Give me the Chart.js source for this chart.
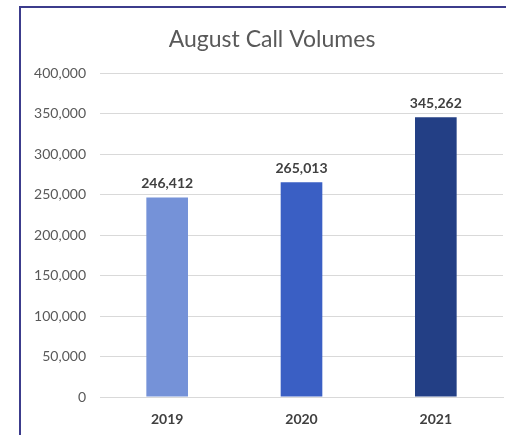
<!DOCTYPE html>
<html>
<head>
<meta charset="utf-8">
<script src="https://cdn.jsdelivr.net/npm/chart.js@4/dist/chart.umd.min.js"></script>
<style>
  html, body { margin: 0; padding: 0; background: #fff; }
  #wrap { position: relative; width: 506px; height: 435px; overflow: hidden; }
  #frame { position: absolute; left: 19px; top: 6px; width: 600px; height: 600px; border: 2px solid #3c3c8c; box-sizing: border-box; pointer-events: none; }
  canvas { position: absolute; left: 0; top: 0; }
</style>
</head>
<body>
<div id="wrap">
  <canvas id="callChart" width="506" height="435"></canvas>
  <div id="frame"></div>
</div>
<script>
// August call volumes
const years = ['2019', '2020', '2021'];
const calls = [246412, 265013, 345262];
const barColors = ['#7592d8', '#3a5fc4', '#233f85'];
const chartTitle = 'August Call Volumes';

const fontFamily = 'Lato, "Open Sans", sans-serif';

// title and value labels, drawn by hand so they sit where Excel put them
const barLabels = {
  id: 'barLabels',
  afterDatasetsDraw(chart) {
    const ctx = chart.ctx;
    const meta = chart.getDatasetMeta(0);
    ctx.save();
    ctx.font = '23px ' + fontFamily;
    ctx.fillStyle = '#595959';
    ctx.textAlign = 'center';
    ctx.textBaseline = 'middle';
    ctx.fillText(chartTitle, 272, 40);

    ctx.font = 'bold 14px ' + fontFamily;
    ctx.fillStyle = '#404040';
    ctx.textBaseline = 'bottom';
    meta.data.forEach((bar, i) => {
      ctx.fillText(calls[i].toLocaleString('en-US'), bar.x, bar.y - 7);
    });
    ctx.restore();
  }
};

new Chart(document.getElementById('callChart').getContext('2d'), {
  type: 'bar',
  data: {
    labels: years,
    datasets: [{
      label: 'Calls',
      data: calls,
      backgroundColor: barColors,
      borderWidth: 0,
      categoryPercentage: 1,
      barPercentage: 0.31
    }]
  },
  options: {
    responsive: false,
    animation: false,
    layout: { padding: { left: 0, right: 3, top: 73, bottom: 0 } },
    plugins: {
      legend: { display: false },
      tooltip: { enabled: false },
      title: { display: false }
    },
    scales: {
      x: {
        grid: { display: false },
        border: { display: true, color: '#d9d9d9', width: 1 },
        ticks: {
          color: '#404040',
          padding: 6,
          font: { family: fontFamily, size: 14, weight: 'bold' }
        },
        afterFit: (s) => { s.height = 38; }
      },
      y: {
        min: 0,
        max: 400000,
        ticks: {
          stepSize: 50000,
          color: '#595959',
          padding: 14,
          font: { family: fontFamily, size: 14 },
          callback: (v) => v.toLocaleString('en-US')
        },
        grid: { color: '#d9d9d9', drawTicks: false },
        border: { display: false },
        afterFit: (s) => { s.width = 100; }
      }
    }
  },
  plugins: [barLabels]
});
</script>
</body>
</html>
